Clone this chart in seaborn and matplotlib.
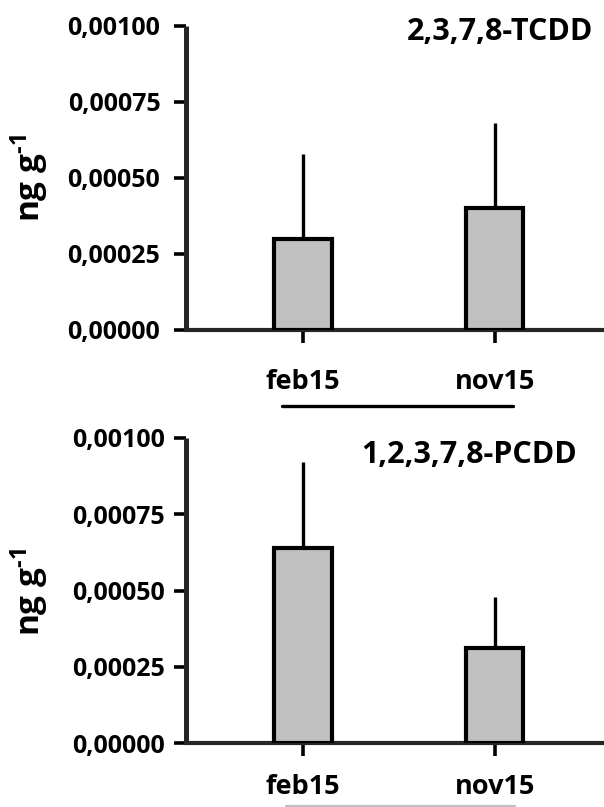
import matplotlib
matplotlib.use("Agg")
import matplotlib.pyplot as plt
from matplotlib.lines import Line2D
from matplotlib.ticker import FuncFormatter, FixedLocator
import seaborn as sns
import pandas as pd

categories = ["feb15", "nov15"]
tcdd_mean = [0.00030, 0.00040]
tcdd_err = [0.00028, 0.00028]
pcdd_mean = [0.00064, 0.00031]
pcdd_err = [0.00028, 0.00017]
yticks = [0.0, 0.00025, 0.00050, 0.00075, 0.00100]
titles = ["2,3,7,8-TCDD", "1,2,3,7,8-PCDD"]
ylabel = r"ng g$^{\text{-1}}$"

sns.set_theme(style="ticks")
plt.rcParams["font.family"] = ["Open Sans", "DejaVu Sans"]
plt.rcParams["font.weight"] = "bold"
plt.rcParams["mathtext.fontset"] = "custom"
plt.rcParams["mathtext.rm"] = "Open Sans:bold"
plt.rcParams["mathtext.it"] = "Open Sans:bold"
plt.rcParams["mathtext.bf"] = "Open Sans:bold"

W, H = 604, 807
fig = plt.figure(figsize=(W / 100, H / 100), dpi=100)
fig.patch.set_facecolor("white")


def make_panel(top_px, bottom_px, means, errs, title, title_right, title_base, xpad, ypad, ylabel_y):
    ax = fig.add_axes([186 / W, 1 - bottom_px / H, 418 / W, (bottom_px - top_px) / H])
    df = pd.DataFrame({"cat": categories, "val": means})
    sns.barplot(data=df, x="cat", y="val", ax=ax, color="#c0c0c0", saturation=1,
                edgecolor="black", linewidth=3, width=0.3, errorbar=None, zorder=3)
    ax.errorbar(x=[0, 1], y=means, yerr=[[0, 0], errs], fmt="none",
                ecolor="black", elinewidth=2.4, capsize=0, zorder=2)
    ax.set_xlim(-0.61, 1.57)
    ax.set_ylim(0, 0.001)
    ax.yaxis.set_major_locator(FixedLocator(yticks))
    ax.yaxis.set_major_formatter(FuncFormatter(lambda v, p: f"{v:.5f}".replace(".", ",")))
    ax.set_xlabel("")
    ax.set_ylabel("")
    for s in ["top", "right"]:
        ax.spines[s].set_visible(False)
    ax.spines["left"].set_linewidth(3.6)
    ax.spines["bottom"].set_linewidth(3.0)
    ax.spines["left"].set_capstyle("butt")
    ax.tick_params(axis="y", direction="out", length=8.5, width=2.6, pad=ypad,
                   labelsize=18, color="black", labelcolor="black")
    ax.tick_params(axis="x", direction="out", length=9.5, width=2.6, pad=xpad,
                   labelsize=19.5, color="black", labelcolor="black")
    for lab in ax.get_xticklabels() + ax.get_yticklabels():
        lab.set_fontweight("bold")
    ax.set_facecolor("white")
    fig.text(title_right / W, 1 - title_base / H, title, ha="right", va="baseline",
             fontsize=22, fontweight="bold", color="black")
    fig.text(30 / W, 1 - ylabel_y / H, ylabel, rotation=90, ha="center", va="center",
             fontsize=24, fontweight="bold", color="black")
    return ax


ax1 = make_panel(26, 330, tcdd_mean, tcdd_err, titles[0], 593, 40, 18.5, 10, 178)
ax2 = make_panel(438, 743, pcdd_mean, pcdd_err, titles[1], 577, 463, 13, 6.5, 592)

fig.add_artist(Line2D([282 / W, 513 / W], [1 - 406 / H, 1 - 406 / H],
                      color="black", linewidth=2.4, solid_capstyle="round"))
fig.add_artist(Line2D([286 / W, 515 / W], [1 - 806 / H, 1 - 806 / H],
                      color="#bdbdbd", linewidth=1.6))

fig.savefig("out.png", dpi=100, facecolor="white")
